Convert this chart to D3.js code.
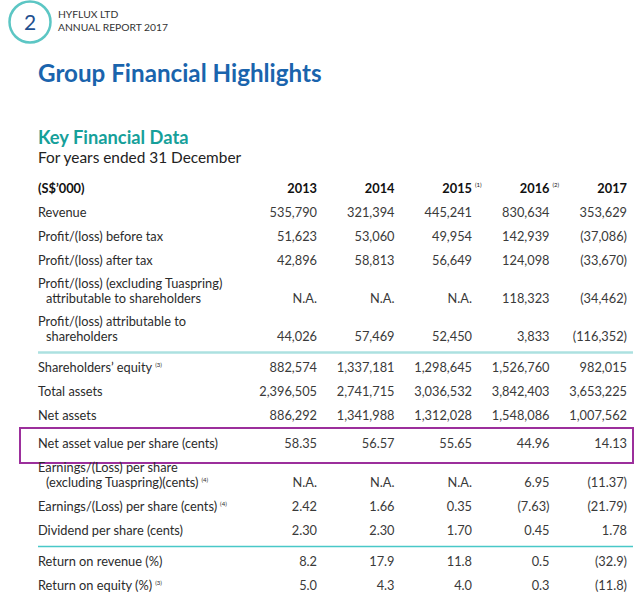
<!DOCTYPE html>
<html>
<head>
<meta charset="utf-8">
<script src="https://cdn.jsdelivr.net/npm/d3@7"></script>
<style>
  html, body { margin: 0; padding: 0; background: #fff; }
  svg { display: block; font-family: Lato, "Open Sans", sans-serif; }
</style>
</head>
<body>
<div id="chart"></div>
<script>
// column headers and footnote marks
const years = ['2013', '2014', '2015', '2016', '2017'];
const yearNotes = ['', '', '(1)', '(2)', ''];

// row labels (lines), note marks, and group index
const rowLabels = [
  ['Revenue'],
  ['Profit/(loss) before tax'],
  ['Profit/(loss) after tax'],
  ['Profit/(loss) (excluding Tuaspring)', '  attributable to shareholders'],
  ['Profit/(loss) attributable to', '  shareholders'],
  ['Shareholders\u2019 equity'],
  ['Total assets'],
  ['Net assets'],
  ['Net asset value per share (cents)'],
  ['Earnings/(Loss) per share', '  (excluding Tuaspring)(cents)'],
  ['Earnings/(Loss) per share (cents)'],
  ['Dividend per share (cents)'],
  ['Return on revenue (%)'],
  ['Return on equity (%)']
];
const rowNotes = ['', '', '', '', '', '(3)', '', '', '', '(4)', '(4)', '', '', '(3)'];
const rowGroups = [0, 0, 0, 0, 0, 1, 1, 1, 2, 3, 3, 3, 4, 4];

// values per row, one per year
const values = [
  ['535,790', '321,394', '445,241', '830,634', '353,629'],
  ['51,623', '53,060', '49,954', '142,939', '(37,086)'],
  ['42,896', '58,813', '56,649', '124,098', '(33,670)'],
  ['N.A.', 'N.A.', 'N.A.', '118,323', '(34,462)'],
  ['44,026', '57,469', '52,450', '3,833', '(116,352)'],
  ['882,574', '1,337,181', '1,298,645', '1,526,760', '982,015'],
  ['2,396,505', '2,741,715', '3,036,532', '3,842,403', '3,653,225'],
  ['886,292', '1,341,988', '1,312,028', '1,548,086', '1,007,562'],
  ['58.35', '56.57', '55.65', '44.96', '14.13'],
  ['N.A.', 'N.A.', 'N.A.', '6.95', '(11.37)'],
  ['2.42', '1.66', '0.35', '(7.63)', '(21.79)'],
  ['2.30', '2.30', '1.70', '0.45', '1.78'],
  ['8.2', '17.9', '11.8', '0.5', '(32.9)'],
  ['5.0', '4.3', '4.0', '0.3', '(11.8)']
];
const highlightRow = 8;

const width = 640, height = 604;
const left = 38, right = 633;

const svg = d3.select('#chart').append('svg')
  .attr('width', width).attr('height', height);

// page header
const badge = svg.append('g').attr('transform', 'translate(30,22)');
badge.append('circle').attr('r', 20.5)
  .attr('fill', 'none').attr('stroke', '#5cc6c4').attr('stroke-width', 2.5);
badge.append('text').attr('text-anchor', 'middle').attr('y', 7.5)
  .style('font-size', '21px').style('fill', '#1f4f8f').text('2');

svg.append('text').attr('x', 58).attr('y', 18)
  .style('font-size', '10.3px').style('fill', '#333').text('HYFLUX LTD');
svg.append('text').attr('x', 58).attr('y', 31)
  .style('font-size', '10.3px').style('fill', '#333').text('ANNUAL REPORT 2017');

svg.append('text').attr('x', left).attr('y', 82)
  .style('font-size', '24.2px').style('font-weight', 'bold')
  .style('fill', '#1a64ad').text('Group Financial Highlights');

svg.append('text').attr('x', left).attr('y', 144)
  .style('font-size', '18.3px').style('font-weight', 'bold')
  .style('fill', '#16a09a').text('Key Financial Data');
svg.append('text').attr('x', left).attr('y', 163)
  .style('font-size', '15.4px').style('fill', '#222').text('For years ended 31 December');

// column scale: right edge of each year column
const x = d3.scalePoint().domain(years).range([317, 627]);

// vertical layout in baseline units: first line step, extra lines, gap on group change
const stepSingle = 24, stepMulti = 23, extraLine = 15;
const groupGap = { 1: 7, 2: 4, 3: 1, 4: 7 };
let cursor = 0;
const layout = rowLabels.map((lines, i) => {
  if (i > 0) {
    cursor += lines.length > 1 ? stepMulti : stepSingle;
    if (rowGroups[i] !== rowGroups[i - 1]) cursor += groupGap[rowGroups[i]] || 0;
  }
  const first = cursor;
  cursor += extraLine * (lines.length - 1);
  return { i, lines, first, last: cursor };
});
const y = d3.scaleLinear()
  .domain([0, layout[layout.length - 1].last])
  .range([217, 217 + layout[layout.length - 1].last]);

// header row
const head = svg.append('g').style('font-size', '12.8px').style('font-weight', 'bold').style('fill', '#111');
head.append('text').attr('x', left).attr('y', 193).text('(S$\u2019000)');
head.selectAll('text.year').data(years).join('text')
  .attr('class', 'year')
  .attr('x', d => x(d)).attr('y', 193).attr('text-anchor', 'end')
  .text(d => d);
head.selectAll('text.note').data(years.filter((d, i) => yearNotes[i])).join('text')
  .attr('class', 'note')
  .attr('x', d => x(d) + 3).attr('y', 187)
  .style('font-size', '6px').style('font-weight', 'normal')
  .text(d => yearNotes[years.indexOf(d)]);

// separators before groups 1 and 4
const sepStyle = { 1: ['#ace1e0', 2.5], 4: ['#49c8c8', 1.5] };
layout.filter(r => r.i > 0 && rowGroups[r.i] !== rowGroups[r.i - 1] && sepStyle[rowGroups[r.i]])
  .forEach(r => {
    const [c, w] = sepStyle[rowGroups[r.i]];
    const sy = y(layout[r.i - 1].last) + 11.5;
    svg.append('line').attr('x1', left).attr('x2', right)
      .attr('y1', sy).attr('y2', sy)
      .attr('stroke', c).attr('stroke-width', w);
  });

// highlight box
const hl = layout[highlightRow];
svg.append('rect')
  .attr('x', 20).attr('y', y(hl.first) - 20)
  .attr('width', right - 20).attr('height', y(hl.last) - y(hl.first) + 35)
  .attr('fill', 'none').attr('stroke', '#9c2f9c').attr('stroke-width', 2);

// body rows
const rows = svg.append('g').selectAll('g.row').data(layout).join('g')
  .attr('class', 'row')
  .style('font-size', '12.8px').style('fill', '#2b2b2b');

rows.each(function (r) {
  const g = d3.select(this);
  r.lines.forEach((line, k) => {
    const t = g.append('text')
      .attr('x', left + (line.startsWith('  ') ? 8 : 0))
      .attr('y', y(r.first + extraLine * k))
      .text(line.trim());
    if (k === r.lines.length - 1 && rowNotes[r.i]) {
      t.append('tspan').attr('dx', 3).attr('dy', -5)
        .style('font-size', '6px').text(rowNotes[r.i]);
    }
  });
  g.selectAll('text.val').data(values[r.i]).join('text')
    .attr('class', 'val')
    .attr('x', (d, j) => x(years[j]))
    .attr('y', y(r.last))
    .attr('text-anchor', 'end')
    .style('fill', '#3a3a3a')
    .text(d => d);
});
</script>
</body>
</html>
